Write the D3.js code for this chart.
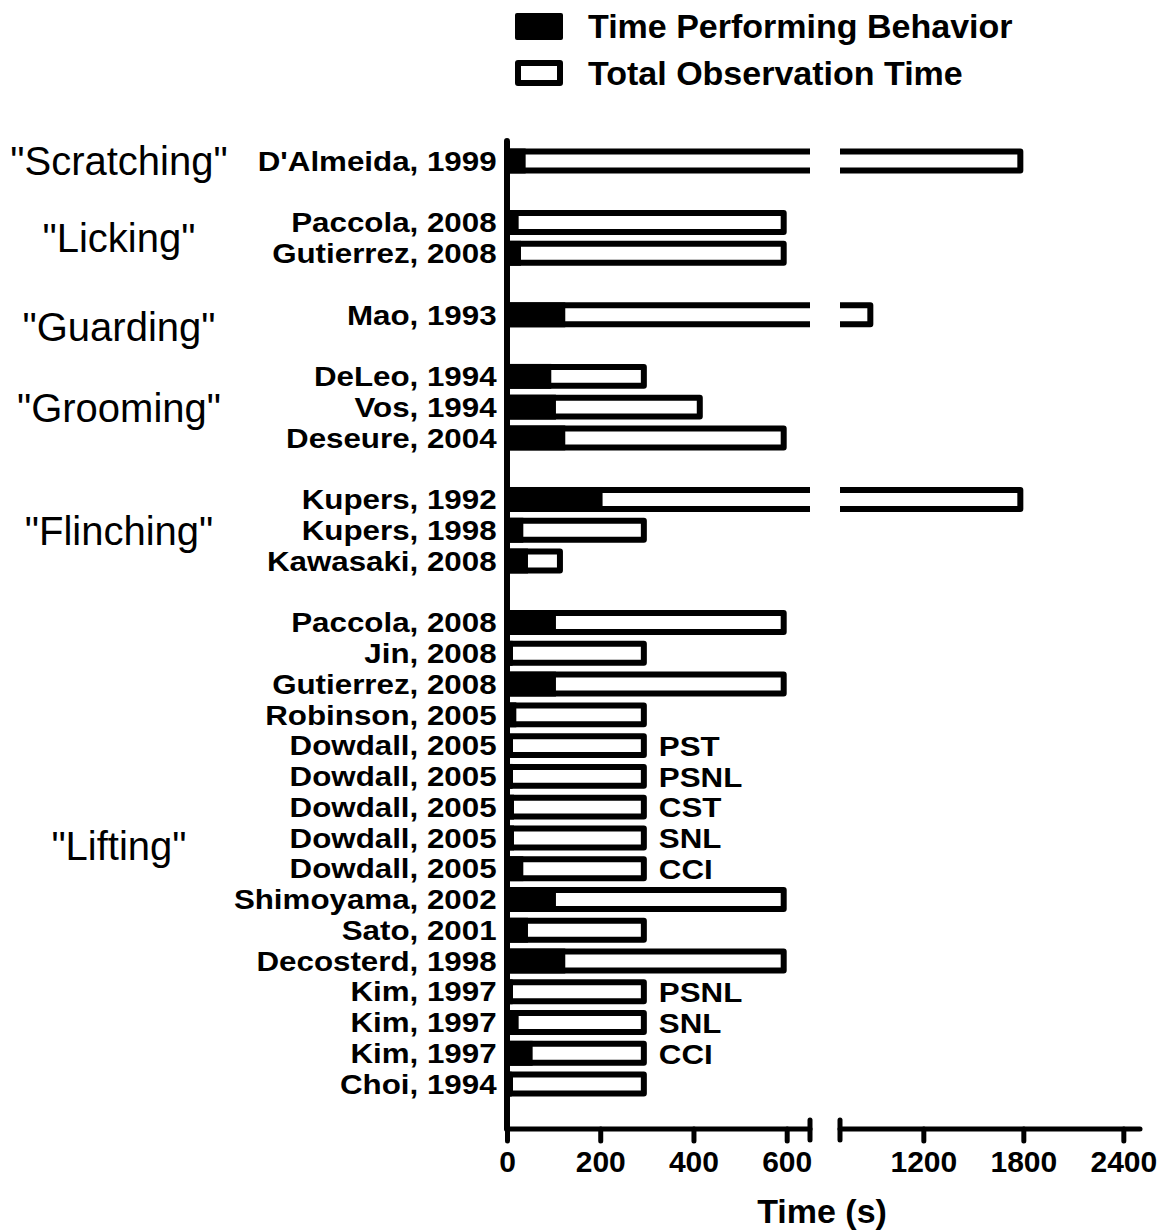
<!DOCTYPE html>
<html>
<head>
<meta charset="utf-8">
<script src="https://cdn.jsdelivr.net/npm/d3@7"></script>
<style>
  html, body { margin: 0; padding: 0; background: #fff; }
  svg { display: block; font-family: Arial, "Liberation Sans", sans-serif; }
</style>
</head>
<body>
<script>
// Behaviour categories, in the order they are stacked from top to bottom
const groups = ['"Scratching"', '"Licking"', '"Guarding"', '"Grooming"', '"Flinching"', '"Lifting"'];

// One entry per study
const studies = [
  "D'Almeida, 1999",
  "Paccola, 2008", "Gutierrez, 2008",
  "Mao, 1993",
  "DeLeo, 1994", "Vos, 1994", "Deseure, 2004",
  "Kupers, 1992", "Kupers, 1998", "Kawasaki, 2008",
  "Paccola, 2008", "Jin, 2008", "Gutierrez, 2008", "Robinson, 2005",
  "Dowdall, 2005", "Dowdall, 2005", "Dowdall, 2005", "Dowdall, 2005", "Dowdall, 2005",
  "Shimoyama, 2002", "Sato, 2001", "Decosterd, 1998",
  "Kim, 1997", "Kim, 1997", "Kim, 1997", "Choi, 1994"
];
const groupOf = [0, 1, 1, 2, 3, 3, 3, 4, 4, 4,
  5, 5, 5, 5, 5, 5, 5, 5, 5, 5, 5, 5, 5, 5, 5, 5];
const models = ["", "", "", "", "", "", "", "", "", "",
  "", "", "", "", "PST", "PSNL", "CST", "SNL", "CCI", "", "", "",
  "PSNL", "SNL", "CCI", ""];

// Seconds spent performing the behaviour, and total observation time (s)
const behaviorTime = [40, 25, 30, 125, 95, 105, 125, 205, 35, 45,
  105, 12, 105, 20, 5, 12, 15, 15, 35, 105, 45, 125, 12, 25, 55, 10];
const totalTime = [1800, 600, 600, 900, 300, 420, 600, 1800, 300, 120,
  600, 300, 600, 300, 300, 300, 300, 300, 300, 600, 300, 600, 300, 300, 300, 300];

// Broken time axis: two linear pieces
const lowDomain = [0, 650];
const highDomain = [700, 2500];
const lowTicks = [0, 200, 400, 600];
const highTicks = [1200, 1800, 2400];

const legendLabels = ["Time Performing Behavior", "Total Observation Time"];
const xTitle = "Time (s)";

// ---------------------------------------------------------------
const W = 1162, H = 1232;
const FONT = 'Arial, "Liberation Sans", sans-serif';
const svg = d3.select("body").append("svg").attr("width", W).attr("height", H);

const axisX = 507, axisY = 1129;
const SW = 6;          // outline stroke width
const LABEL_SIZE = 27; // study / model label size, drawn slightly widened
const WIDEN = 1.16;

const xLow = d3.scaleLinear().domain(lowDomain).range([axisX, 810]);
const xHigh = d3.scaleLinear().domain(highDomain).range([840, 1140]);
const X = v => v <= lowDomain[1] ? xLow(v) : xHigh(v);

// Row layout: studies with an empty row between behaviour groups
const rows = [];
studies.forEach((s, i) => {
  if (i > 0 && groupOf[i] !== groupOf[i - 1]) rows.push({ id: "gap" + i, study: -1 });
  rows.push({ id: "r" + i, study: i });
});
const y = d3.scaleBand()
  .domain(rows.map(r => r.id))
  .range([145.6, 145.6 + rows.length * 30.77])
  .paddingInner(0.19)
  .paddingOuter(0.095);

// Study labels via a left axis
const labelById = new Map(rows.map(r => [r.id, r.study >= 0 ? studies[r.study] : ""]));
const yAxis = svg.append("g")
  .attr("transform", `translate(${axisX},0)`)
  .call(d3.axisLeft(y).tickSize(0).tickPadding(9).tickFormat(id => labelById.get(id)));
yAxis.select(".domain").remove();
yAxis.selectAll("text")
  .attr("font-size", LABEL_SIZE).attr("font-weight", "bold").attr("fill", "#000")
  .attr("font-family", FONT)
  .attr("dy", "0.36em")
  .attr("transform", `scale(${WIDEN},1)`);

// Bars
const barData = studies.map((s, i) => ({ i, b: behaviorTime[i], t: totalTime[i], id: "r" + i }));
const bars = svg.append("g");

bars.selectAll("rect.fill")
  .data(barData)
  .join("rect")
  .attr("class", "fill")
  .attr("x", axisX)
  .attr("y", d => y(d.id))
  .attr("width", d => X(d.b) - axisX)
  .attr("height", y.bandwidth())
  .attr("fill", "#000");

function outline(d) {
  const h = SW / 2;
  const top = y(d.id) + h, bot = y(d.id) + y.bandwidth() - h;
  const left = axisX + h;
  const r = X(d.t) - h;
  if (d.t <= lowDomain[1]) {
    return `M${left},${top}H${r}V${bot}H${left}Z`;
  }
  const brk1 = xLow(lowDomain[1]), brk2 = xHigh(highDomain[0]);
  return `M${brk1},${top}H${left}V${bot}H${brk1}` +
         `M${brk2},${top}H${r}V${bot}H${brk2}`;
}
bars.selectAll("path.total")
  .data(barData)
  .join("path")
  .attr("class", "total")
  .attr("d", outline)
  .attr("fill", "none")
  .attr("stroke", "#000")
  .attr("stroke-width", SW)
  .attr("stroke-linejoin", "round");

// Model labels to the right of bars
svg.append("g").selectAll("text")
  .data(barData.filter(d => models[d.i]))
  .join("text")
  .attr("transform", d => `translate(${X(d.t) + 12},${y(d.id) + y.bandwidth() / 2}) scale(${WIDEN},1)`)
  .attr("dy", "0.38em")
  .attr("font-size", LABEL_SIZE).attr("font-weight", "bold")
  .text(d => models[d.i]);

// Group labels, centred on each group's rows
const groupNudge = [0, 0, 12, 0, 0, -8];
svg.append("g").selectAll("text")
  .data(groups)
  .join("text")
  .attr("x", 119)
  .attr("y", (g, gi) => {
    const ids = studies.map((s, i) => i).filter(i => groupOf[i] === gi);
    const a = y("r" + ids[0]), b = y("r" + ids[ids.length - 1]) + y.bandwidth();
    return (a + b) / 2 + groupNudge[gi];
  })
  .attr("dy", "0.36em")
  .attr("text-anchor", "middle")
  .attr("font-size", 40)
  .text(g => g);

// Vertical axis line
svg.append("line")
  .attr("x1", axisX).attr("x2", axisX)
  .attr("y1", 141).attr("y2", axisY)
  .attr("stroke", "#000").attr("stroke-width", 6).attr("stroke-linecap", "round");

// Broken horizontal axis
function styleAxis(g) {
  g.select(".domain").remove();
  g.selectAll(".tick line").attr("stroke", "#000").attr("stroke-width", 5).attr("stroke-linecap", "round");
  g.selectAll(".tick text")
    .attr("font-size", 30).attr("font-weight", "bold").attr("fill", "#000")
    .attr("font-family", FONT);
}
svg.append("g").attr("transform", `translate(0,${axisY})`)
  .call(d3.axisBottom(xLow).tickValues(lowTicks).tickSize(12).tickSizeOuter(0).tickPadding(10).tickFormat(d3.format("d")))
  .call(styleAxis);
svg.append("g").attr("transform", `translate(0,${axisY})`)
  .call(d3.axisBottom(xHigh).tickValues(highTicks).tickSize(12).tickSizeOuter(0).tickPadding(10).tickFormat(d3.format("d")))
  .call(styleAxis);

const axisLines = svg.append("g").attr("stroke", "#000").attr("stroke-width", 5).attr("stroke-linecap", "round");
axisLines.append("line")
  .attr("x1", xLow(lowDomain[0])).attr("x2", xLow(lowDomain[1]))
  .attr("y1", axisY).attr("y2", axisY);
axisLines.append("line")
  .attr("x1", xHigh(highDomain[0])).attr("x2", xHigh(highDomain[1]))
  .attr("y1", axisY).attr("y2", axisY);
[xLow(lowDomain[1]), xHigh(highDomain[0])].forEach(bx => {
  axisLines.append("line")
    .attr("x1", bx).attr("x2", bx)
    .attr("y1", axisY - 9).attr("y2", axisY + 11);
});

svg.append("text")
  .attr("x", 822).attr("y", 1223)
  .attr("text-anchor", "middle")
  .attr("font-size", 34).attr("font-weight", "bold")
  .text(xTitle);

// Legend
const legend = svg.append("g");
legend.append("rect")
  .attr("x", 515).attr("y", 13).attr("width", 48).attr("height", 27).attr("rx", 2)
  .attr("fill", "#000");
legend.append("rect")
  .attr("x", 515 + SW / 2).attr("y", 60 + SW / 2).attr("width", 48 - SW).attr("height", 26 - SW)
  .attr("fill", "none").attr("stroke", "#000").attr("stroke-width", SW).attr("stroke-linejoin", "round");
legend.selectAll("text")
  .data(legendLabels)
  .join("text")
  .attr("x", 588)
  .attr("y", (d, i) => 38 + i * 47)
  .attr("font-size", 34).attr("font-weight", "bold")
  .text(d => d);
</script>
</body>
</html>
